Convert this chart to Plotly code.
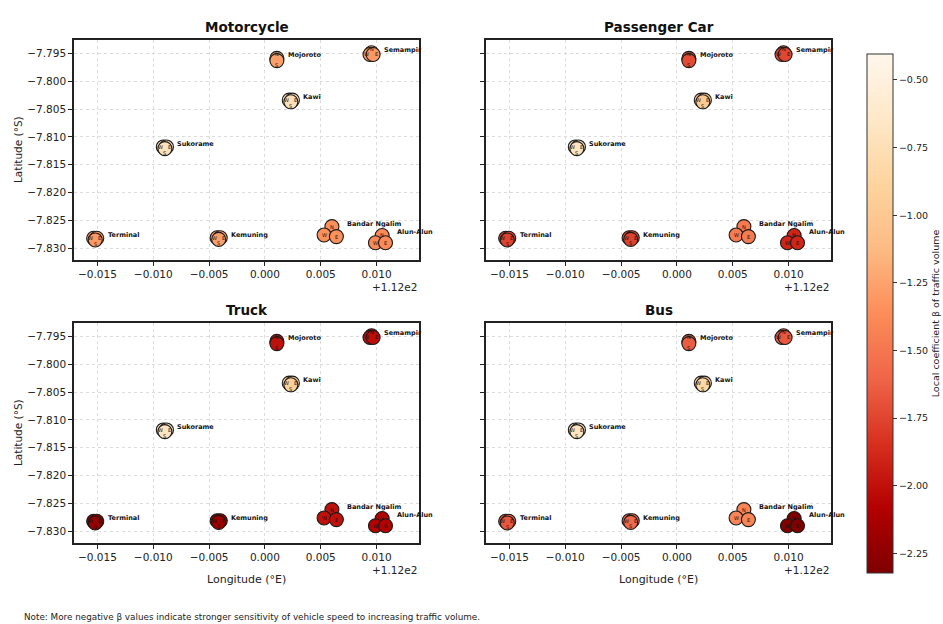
import plotly.graph_objects as go

# ---------------- data ----------------
sites = ["Terminal", "Kemuning", "Sukorame", "Kawi", "Mojoroto", "Semampir", "Bandar Ngalim", "Alun-Alun"]
vehicles = ["Motorcycle", "Passenger Car", "Truck", "Bus"]

# approach-level positions (site, direction, lon, lat)
appr_site = ["Terminal", "Terminal", "Terminal",
             "Kemuning", "Kemuning", "Kemuning",
             "Sukorame", "Sukorame", "Sukorame",
             "Kawi", "Kawi", "Kawi",
             "Mojoroto", "Mojoroto",
             "Semampir", "Semampir", "Semampir",
             "Bandar Ngalim", "Bandar Ngalim", "Bandar Ngalim",
             "Alun-Alun", "Alun-Alun", "Alun-Alun"]
appr_dir = ["W", "E", "S",
            "W", "E", "S",
            "W", "E", "S",
            "W", "E", "S",
            "N", "S",
            "N", "W", "E",
            "N", "W", "E",
            "N", "W", "E"]
appr_lon = [111.98466, 111.98494, 111.98480,
            111.99572, 111.99600, 111.99586,
            111.99090, 111.99118, 111.99104,
            112.00218, 112.00246, 112.00232,
            112.00107, 112.00107,
            112.00955, 112.00941, 112.00969,
            112.00600, 112.00530, 112.00640,
            112.01050, 112.00990, 112.01080]
appr_lat = [-7.82820, -7.82820, -7.82850,
            -7.82810, -7.82810, -7.82840,
            -7.81180, -7.81180, -7.81210,
            -7.80340, -7.80340, -7.80370,
            -7.79590, -7.79630,
            -7.79490, -7.79520, -7.79520,
            -7.82610, -7.82760, -7.82790,
            -7.82770, -7.82900, -7.82900]

# local coefficient beta per site (order of `sites`)
beta_motorcycle = [-1.30, -1.27, -0.72, -0.75, -1.27, -1.30, -1.35, -1.38]
beta_passenger_car = [-1.76, -1.76, -0.70, -0.98, -1.72, -1.74, -1.47, -1.90]
beta_truck = [-2.22, -2.18, -0.68, -0.92, -2.00, -2.02, -2.00, -2.08]
beta_bus = [-1.66, -1.58, -0.68, -0.85, -1.64, -1.66, -1.42, -2.32]

x_tick_vals = [111.985, 111.990, 111.995, 112.000, 112.005, 112.010]
x_tick_text = ["\u22120.015", "\u22120.010", "\u22120.005", "0.000", "0.005", "0.010"]
y_tick_vals = [-7.795, -7.800, -7.805, -7.810, -7.815, -7.820, -7.825, -7.830]

cb_min, cb_max = -2.323, -0.404
orrd = ["#fff7ec", "#fee8c8", "#fdd49e", "#fdbb84", "#fc8d59",
        "#ef6548", "#d7301f", "#b30000", "#7f0000"]
colorscale = [[i / 8, c] for i, c in enumerate(reversed(orrd))]

betas = [beta_motorcycle, beta_passenger_car, beta_truck, beta_bus]

# ---------------- layout geometry (pixels) ----------------
W, H = 943, 624
panels = [  # (x0, x1, y0, y1) in px from top-left
    (74, 419, 40, 260),
    (486, 831, 40, 260),
    (74, 419, 323, 543),
    (486, 831, 323, 543),
]
FONT = "DejaVu Sans"
LETTER_SHIFT = {"N": (0, 4), "S": (0, -4), "W": (-3, 0), "E": (3, 0)}

# which sites are compact (approach circles merged into one blob)
compact = {}
for s in sites:
    idx = [i for i, a in enumerate(appr_site) if a == s]
    lons = [appr_lon[i] for i in idx]
    compact[s] = (max(lons) - min(lons)) < 0.0005

fig = go.Figure()
layout_axes = {}
annotations = []

for k, (veh, beta) in enumerate(zip(vehicles, betas)):
    x0, x1, y0, y1 = panels[k]
    xa = "x" if k == 0 else f"x{k+1}"
    ya = "y" if k == 0 else f"y{k+1}"
    xkey = "xaxis" if k == 0 else f"xaxis{k+1}"
    ykey = "yaxis" if k == 0 else f"yaxis{k+1}"

    colors = [beta[sites.index(s)] for s in appr_site]
    fig.add_trace(go.Scatter(
        x=appr_lon, y=appr_lat, mode="markers", xaxis=xa, yaxis=ya,
        marker=dict(size=14, color=colors, coloraxis="coloraxis",
                    line=dict(color="#1a1a1a", width=1.1)),
        showlegend=False, hoverinfo="skip"))

    # direction letters
    for s, d, lo, la in zip(appr_site, appr_dir, appr_lon, appr_lat):
        dx, dy = LETTER_SHIFT[d] if compact[s] else (0, 0)
        annotations.append(dict(
            x=lo, y=la, xref=xa, yref=ya, text=d, showarrow=False,
            xanchor="center", yanchor="middle", xshift=dx, yshift=dy,
            font=dict(family=FONT, size=5, color="#111")))

    # site labels
    for s in sites:
        idx = [i for i, a in enumerate(appr_site) if a == s]
        lx = max(appr_lon[i] for i in idx)
        ly = max(appr_lat[i] for i in idx)
        annotations.append(dict(
            x=lx, y=ly, xref=xa, yref=ya, text=f"<b>{s}</b>", showarrow=False,
            xanchor="left", yanchor="middle", xshift=9, yshift=3,
            font=dict(family=FONT, size=6.5, color="#111")))

    layout_axes[xkey] = dict(
        domain=[x0 / W, x1 / W], anchor=ya, range=[111.9829, 112.0138],
        tickmode="array", tickvals=x_tick_vals, ticktext=x_tick_text,
        showgrid=True, gridcolor="#dcdcdc", griddash="dot", gridwidth=1,
        showline=True, linecolor="#222", linewidth=1.5, mirror=True,
        ticks="outside", ticklen=4, tickcolor="#222",
        tickfont=dict(family=FONT, size=10.5, color="#222"), zeroline=False)
    layout_axes[ykey] = dict(
        domain=[1 - y1 / H, 1 - y0 / H], anchor=xa, range=[-7.8321, -7.7926],
        tickmode="array", tickvals=y_tick_vals, tickformat=".3f",
        showticklabels=(k % 2 == 0),
        showgrid=True, gridcolor="#dcdcdc", griddash="dot", gridwidth=1,
        showline=True, linecolor="#222", linewidth=1.5, mirror=True,
        ticks="outside", ticklen=4, tickcolor="#222",
        tickfont=dict(family=FONT, size=10.5, color="#222"), zeroline=False)

    # panel title
    annotations.append(dict(
        x=(x0 + x1) / 2 / W, y=1 - (y0 - 13) / H, xref="paper", yref="paper",
        text=f"<b>{veh}</b>", showarrow=False, xanchor="center", yanchor="middle",
        font=dict(family=FONT, size=13.5, color="#111")))
    # offset text
    annotations.append(dict(
        x=x1 / W, y=1 - (y1 + 27) / H, xref="paper", yref="paper",
        text="+1.12e2", showarrow=False, xanchor="right", yanchor="middle",
        font=dict(family=FONT, size=10.5, color="#222")))
    if k % 2 == 0:
        annotations.append(dict(
            x=18 / W, y=1 - (y0 + y1) / 2 / H, xref="paper", yref="paper",
            text="Latitude (\u00b0S)", showarrow=False, textangle=-90,
            xanchor="center", yanchor="middle",
            font=dict(family=FONT, size=10.5, color="#222")))
    if k >= 2:
        annotations.append(dict(
            x=(x0 + x1) / 2 / W, y=1 - (y1 + 36) / H, xref="paper", yref="paper",
            text="Longitude (\u00b0E)", showarrow=False,
            xanchor="center", yanchor="middle",
            font=dict(family=FONT, size=11, color="#222")))

annotations.append(dict(
    x=22 / W, y=1 - 617 / H, xref="paper", yref="paper",
    text="Note: More negative \u03b2 values indicate stronger sensitivity of vehicle speed to increasing traffic volume.",
    showarrow=False, xanchor="left", yanchor="middle",
    font=dict(family=FONT, size=8.8, color="#222")))

fig.update_layout(
    width=W, height=H, margin=dict(l=0, r=0, t=0, b=0),
    paper_bgcolor="white", plot_bgcolor="white",
    coloraxis=dict(
        colorscale=colorscale, cmin=cb_min, cmax=cb_max,
        colorbar=dict(
            x=867 / W, xanchor="left", y=1 - 54 / H, yanchor="top",
            len=(573 - 54) / H, lenmode="fraction", thickness=26, thicknessmode="pixels",
            outlinewidth=1, outlinecolor="#333",
            tickmode="array", tickvals=[-0.5, -0.75, -1.0, -1.25, -1.5, -1.75, -2.0, -2.25],
            tickformat=".2f", ticks="outside", ticklen=4, tickcolor="#333",
            tickfont=dict(family=FONT, size=9.5, color="#222"),
            title=dict(text="Local coefficient \u03b2 of traffic volume", side="right",
                       font=dict(family=FONT, size=9.5, color="#222")),
            xpad=0, ypad=0)),
    annotations=annotations,
    **layout_axes)

fig.write_html("out.html")
